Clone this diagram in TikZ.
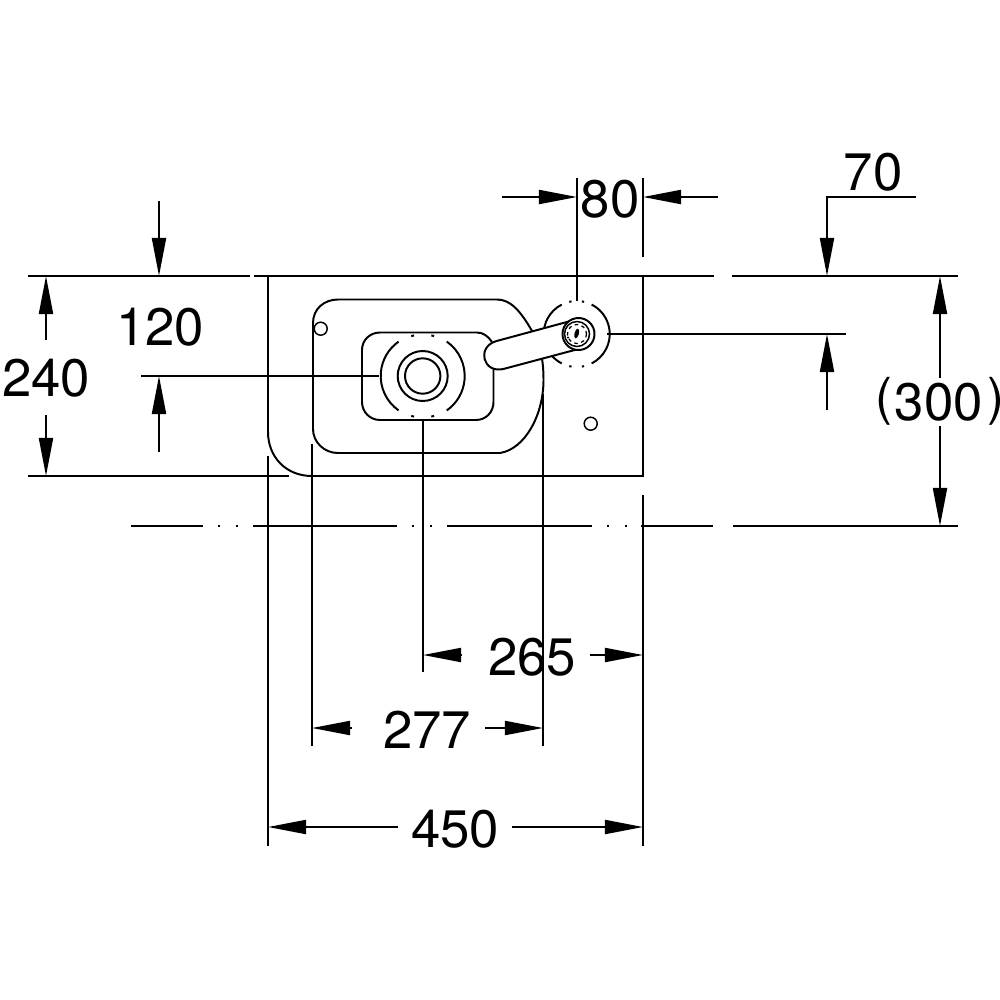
\documentclass[tikz,border=0pt]{standalone}
\usepackage{fontspec}
\setmainfont{TeX Gyre Heros}
\usetikzlibrary{arrows.meta}
\tikzset{
  ln/.style={line width=0.56pt,black,line cap=butt},
  dim/.style={ln,-{Triangle[length=3.8mm,width=1.4mm]}},
  lbl/.style={font=\fontsize{15}{16}\selectfont,inner sep=0pt,text=black},
  thinc/.style={line width=0.42pt,black}
}
\newcommand{\parenL}{\smash{\raisebox{1.6pt}{\fontsize{14.5}{15}\selectfont(}}}
\newcommand{\parenR}{\smash{\raisebox{1.6pt}{\fontsize{14.5}{15}\selectfont)}}}
\begin{document}
\begin{tikzpicture}[x=0.01cm,y=-0.01cm]
\useasboundingbox (0,0) rectangle (1000,1000);
\fill[white] (0,0) rectangle (1000,1000);
% named points
\coordinate (sink) at (422.7,376);
\coordinate (tap) at (576.7,334);
% top reference line
\draw[ln] (28,276) -- (250,276) (254,276) -- (714,276) (732,276) -- (958,276);
% centre line
\draw[ln] (131,526) -- (203,526) (218,526) -- (220,526) (236,526) -- (238,526)
  (253,526) -- (397,526) (412,526) -- (414,526) (430,526) -- (432,526)
  (447,526) -- (592,526) (607,526) -- (609,526) (625,526) -- (627,526)
  (641,526) -- (713,526) (733,526) -- (958,526);
% outer plan of basin
\draw[ln] (268,276) -- (268,432) .. controls (268,457) and (286,476) .. (312,476) -- (643,476) -- (643,276);
% extension lines
\draw[ln] (28,476) -- (289,476);
\draw[ln] (268,456) -- (268,846);
\draw[ln] (312,444) -- (312,746);
\draw[ln] (423,420) -- (423,672);
\draw[ln] (543,394) -- (543,746);
\draw[ln] (643,495) -- (643,846);
\draw[ln] (643,178) -- (643,257);
\draw[ln] (577,178) -- (577,301);
\draw[ln] (141,376) -- (379,376);
\draw[ln] (607,334) -- (846,334);
% bowl
\draw[ln] (313,323) .. controls (313,309) and (324,299.5) .. (338,299.5) -- (497,299.5)
  .. controls (510,299.5) and (520,310) .. (532,331) .. controls (540,345) and (543.5,358) .. (543.5,380)
  .. controls (543.5,415) and (525,449) .. (500,453) -- (338,453)
  .. controls (324,453) and (313,442) .. (313,429) -- cycle;
% inner rounded rectangle
\draw[ln] (380,332.5) -- (477,332.5) .. controls (483,332.5) and (488,336) .. (492,342)
  (493.5,365) -- (493.5,402) .. controls (493.5,412) and (486,420) .. (476,420)
  -- (380,420) .. controls (370,420) and (362,412) .. (362,402)
  -- (362,350) .. controls (362,340) and (370,332.5) .. (380,332.5);
% drain
\draw[ln] (sink) circle (25);
\draw[ln] (sink) circle (17.7);
\draw[ln] (sink) ++(125:42) arc[start angle=125,end angle=235,radius=42];
\draw[ln] (sink) ++(-55:42) arc[start angle=-55,end angle=55,radius=42];
\foreach \a in {-76,-104,76,104}{
  \draw[ln] (sink) ++(\a-2:41.5) arc[start angle=\a-2,end angle=\a+2,radius=41.5];
}
% tap dashed circle
\draw[ln] (tap) ++(117:33) arc[start angle=117,end angle=243,radius=33];
\draw[ln] (tap) ++(-63:33) arc[start angle=-63,end angle=63,radius=33];
\foreach \a in {-79,-101,79,101}{
  \draw[ln] (tap) ++(\a-2:33) arc[start angle=\a-2,end angle=\a+2,radius=33];
}
% lever
\draw[ln,fill=white] (578,319) -- (496.3,341.1) .. controls (476,347) and (483,374) .. (503.7,368.9) -- (586,347);
\draw[ln,fill=white] (578.5,334) circle (16);
\draw[thinc,fill=white] (577,334) circle (12.5);
\draw[line width=0.35pt,black,dash pattern=on 1pt off 1pt] (577,334) circle (9.5);
\fill[black,rotate around={-15:(576.7,333.5)}] (576.7,333.5) ellipse (2.2 and 5);
\fill[black] (568,337.5) circle (1.2);
% fixing holes
\draw[thinc] (320.7,328.7) circle (6.5);
\draw[thinc] (590.7,423.7) circle (6.5);
% labels
\node[lbl] (t70) at (873,172) {70};
\node[lbl] (t80) at (610,199) {80};
\node[lbl] (t120) at (160,327) {120};
\node[lbl] (t240) at (46,378) {240};
\node[lbl] (t300) at (940,402) {\parenL\hspace{0.8pt}300\hspace{1.4pt}\parenR};
\node[lbl] (t265) at (532,657) {265};
\node[lbl] (t277) at (427,730) {277};
\node[lbl] (t450) at (455,829) {450};
% dimension arrows
\draw[dim] (502,197) -- (577,197);
\draw[dim] (718,197) -- (643,197);
\draw[dim] (916,197) -- (827,197) -- (827,276);
\draw[dim] (827,410) -- (827,334);
\draw[dim] (159,201) -- (159,276);
\draw[dim] (159,452) -- (159,376);
\draw[dim] (46,340) -- (46,276);
\draw[dim] (46,415) -- (46,476);
\draw[dim] (940,378) -- (940,276);
\draw[dim] (940,426) -- (940,526);
\draw[dim] (462,655) -- (423,655);
\draw[dim] (590,655) -- (643,655);
\draw[dim] (352,728) -- (312,728);
\draw[dim] (485,728) -- (543,728);
\draw[dim] (398,827) -- (268,827);
\draw[dim] (512,827) -- (643,827);
\end{tikzpicture}
\end{document}
